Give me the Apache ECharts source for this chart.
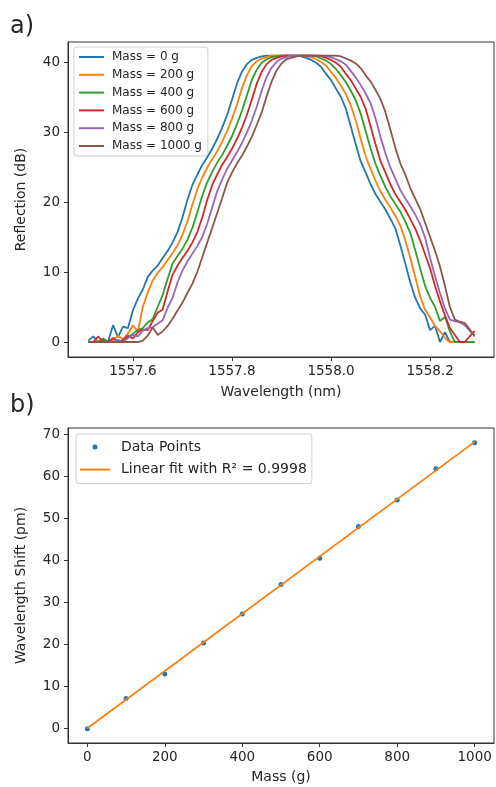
<!DOCTYPE html>
<html>
<head>
<meta charset="utf-8">
<script src="https://cdn.jsdelivr.net/npm/echarts@6/dist/echarts.min.js"></script>
<style>
  html, body { margin: 0; padding: 0; background: #fff; }
  #chart { width: 496px; height: 787px; }
</style>
</head>
<body>
<div id="chart"></div>
<script>
// ---- Panel a: reflection spectra of the grating under load ----
const wavelength = [
  1557.51, 1557.52, 1557.53, 1557.54, 1557.55, 1557.56, 1557.57, 1557.58, 1557.59, 1557.60,
  1557.61, 1557.62, 1557.63, 1557.64, 1557.65, 1557.66, 1557.67, 1557.68, 1557.69, 1557.70,
  1557.71, 1557.72, 1557.73, 1557.74, 1557.75, 1557.76, 1557.77, 1557.78, 1557.79, 1557.80,
  1557.81, 1557.82, 1557.83, 1557.84, 1557.85, 1557.86, 1557.87, 1557.88, 1557.89, 1557.90,
  1557.91, 1557.92, 1557.93, 1557.94, 1557.95, 1557.96, 1557.97, 1557.98, 1557.99, 1558.00,
  1558.01, 1558.02, 1558.03, 1558.04, 1558.05, 1558.06, 1558.07, 1558.08, 1558.09, 1558.10,
  1558.11, 1558.12, 1558.13, 1558.14, 1558.15, 1558.16, 1558.17, 1558.18, 1558.19, 1558.20,
  1558.21, 1558.22, 1558.23, 1558.24, 1558.25, 1558.26, 1558.27, 1558.28, 1558.29
];

const mass0 = [
  0.2, 0.8, 0.0, 0.3, 0.1, 2.4, 0.7, 2.2, 2.0, 4.5,
  6.2, 7.5, 9.3, 10.2, 10.9, 12.0, 13.0, 14.2, 15.7, 17.8,
  20.3, 22.4, 23.9, 25.3, 26.4, 27.6, 29.0, 30.6, 32.4, 34.6,
  36.9, 38.6, 39.7, 40.3, 40.6, 40.8, 40.9, 40.9, 40.9, 40.9,
  40.9, 40.9, 40.9, 40.8, 40.6, 40.3, 39.9, 39.3, 38.3, 37.4,
  36.2, 35.0, 33.3, 30.8, 28.2, 25.8, 24.2, 22.5, 21.1, 20.0,
  18.9, 17.6, 16.2, 13.8, 11.2, 8.5, 6.3, 4.8, 3.9, 1.7,
  2.3, 0.0, 1.4, 0.0, 0.0, 0.0, 0.0, 0.0, 0.0
];
const mass200 = [
  0.0, 0.0, 0.2, 0.0, 0.0, 0.3, 0.9, 0.4, 1.2, 2.4,
  1.5, 5.0, 7.1, 8.8, 9.9, 10.7, 11.7, 12.7, 13.8, 15.3,
  17.2, 19.6, 21.8, 23.5, 24.9, 26.1, 27.2, 28.6, 30.1, 31.9,
  33.9, 36.2, 38.1, 39.4, 40.1, 40.5, 40.7, 40.9, 40.9, 40.9,
  40.9, 40.9, 40.9, 40.9, 40.8, 40.7, 40.4, 40.0, 39.5, 38.6,
  37.7, 36.6, 35.4, 33.8, 31.6, 29.0, 26.5, 24.7, 23.0, 21.5,
  20.3, 19.2, 18.0, 16.6, 14.5, 12.0, 9.3, 6.5, 4.6, 3.5,
  2.3, 1.5, 0.6, 0.0, 0.0, 0.0, 0.0, 0.0, 0.0
];
const mass400 = [
  0.0, 0.0, 0.0, 0.5, 0.0, 0.0, 0.0, 0.3, 0.6, 1.2,
  1.7, 2.0, 2.8, 3.3, 5.0, 6.7, 9.0, 11.2, 12.3, 13.3,
  14.6, 16.3, 18.5, 20.9, 22.8, 24.3, 25.6, 26.7, 28.0, 29.4,
  31.1, 33.0, 35.2, 37.4, 38.9, 39.9, 40.4, 40.7, 40.8, 40.9,
  40.9, 40.9, 40.9, 40.9, 40.9, 40.9, 40.8, 40.5, 40.2, 39.7,
  39.0, 38.1, 37.1, 35.9, 34.5, 32.6, 30.1, 27.6, 25.4, 23.7,
  22.1, 20.8, 19.7, 18.6, 17.2, 15.6, 13.1, 10.5, 8.0, 6.3,
  5.0, 3.0, 3.6, 1.5, 0.0, 0.0, 0.0, 0.0, 0.0
];
const mass600 = [
  0.0, 0.0, 0.8, 0.0, 0.0, 0.6, 0.0, 0.2, 0.9, 0.5,
  1.4, 1.8, 1.7, 3.0, 4.2, 4.6, 7.2, 9.6, 10.9, 12.0,
  13.0, 14.2, 15.7, 17.8, 20.3, 22.4, 23.9, 25.3, 26.4, 27.6,
  29.0, 30.6, 32.4, 34.6, 36.9, 38.6, 39.7, 40.3, 40.6, 40.8,
  40.9, 40.9, 40.9, 40.9, 40.9, 40.9, 40.9, 40.8, 40.6, 40.3,
  39.9, 39.3, 38.3, 37.4, 36.2, 35.0, 33.3, 30.8, 28.2, 25.8,
  24.2, 22.5, 21.1, 20.0, 18.9, 17.6, 16.2, 14.5, 12.5, 10.5,
  8.0, 5.8, 3.8, 2.0, 1.0, 0.0, 0.0, 0.8, 1.6
];
const mass800 = [
  0.0, 0.0, 0.0, 0.0, 0.0, 0.0, 0.3, 0.0, 0.6, 1.0,
  0.8, 1.6, 2.0, 2.1, 2.6, 3.1, 4.9, 6.3, 8.5, 10.2,
  11.5, 12.6, 13.7, 15.0, 16.9, 19.2, 21.5, 23.2, 24.7, 25.9,
  27.1, 28.4, 29.9, 31.6, 33.6, 35.9, 37.9, 39.2, 40.0, 40.5,
  40.7, 40.9, 40.9, 40.9, 40.9, 40.9, 40.9, 40.9, 40.8, 40.7,
  40.4, 40.1, 39.6, 38.7, 37.8, 36.7, 35.5, 34.1, 31.9, 29.3,
  26.9, 24.9, 23.3, 21.7, 20.5, 19.4, 18.2, 16.8, 14.9, 12.0,
  9.4, 7.0, 4.8, 3.2, 3.0, 2.8, 2.4, 1.6, 1.0
];
const mass1000 = [
  0.0, 0.0, 0.0, 0.0, 0.0, 0.0, 0.0, 0.0, 0.0, 0.0,
  0.0, 0.2, 0.9, 2.1, 1.0, 1.5, 2.3, 3.3, 4.5, 5.6,
  7.0, 8.3, 10.0, 12.1, 14.2, 16.3, 18.4, 20.5, 22.7, 24.2,
  25.5, 26.6, 27.9, 29.3, 31.0, 32.8, 35.1, 37.2, 38.8, 39.8,
  40.4, 40.6, 40.8, 40.9, 40.9, 40.9, 40.9, 40.9, 40.9, 40.9,
  40.9, 40.8, 40.5, 40.2, 39.8, 39.1, 38.1, 37.2, 36.0, 34.7,
  32.8, 30.3, 27.7, 25.5, 23.9, 22.0, 20.5, 19.0, 17.0, 15.0,
  13.0, 10.8, 8.0, 5.0, 3.2, 2.9, 2.7, 1.8, 0.8
];

const spectraNames = ['Mass = 0 g', 'Mass = 200 g', 'Mass = 400 g', 'Mass = 600 g', 'Mass = 800 g', 'Mass = 1000 g'];
const spectraColors = ['#1f77b4', '#ff7f0e', '#2ca02c', '#d62728', '#9467bd', '#8c564b'];
const wavelengthTicks = [1557.6, 1557.8, 1558.0, 1558.2];
const reflectionTicks = [0, 10, 20, 30, 40];

// ---- Panel b: Bragg wavelength shift versus applied mass ----
const massLoad = [0, 100, 200, 300, 400, 500, 600, 700, 800, 900, 1000];
const wavelengthShift = [0, 7.2, 13.0, 20.4, 27.3, 34.3, 40.5, 48.1, 54.4, 61.8, 68.0];
const fitMass = [0, 1000];
const fitShift = [0.1, 68.2];
const massTicks = [0, 200, 400, 600, 800, 1000];
const shiftTicks = [0, 10, 20, 30, 40, 50, 60, 70];

const FONT = 'DejaVu Sans';
const INK = '#262626';
// thin horizontal bar used as the legend glyph for line series
const LINE_ICON_A = 'path://M0,0 H25 V2 H0 Z';
const LINE_ICON_B = 'path://M0,0 H30 V2 H0 Z';

function valueAxis(gridIndex, min, max, ticks, fmt, name, nameGap, isX) {
  return {
    type: 'value',
    gridIndex: gridIndex,
    min: min,
    max: max,
    name: name,
    nameLocation: 'middle',
    nameGap: nameGap,
    nameTextStyle: { fontFamily: FONT, fontSize: 14, color: INK },
    axisLine: { show: true, onZero: false, lineStyle: { color: '#333', width: 1 } },
    splitLine: { show: false },
    axisTick: {
      show: true, inside: false, length: 4,
      customValues: ticks,
      lineStyle: { color: '#333', width: 1 }
    },
    axisLabel: {
      customValues: ticks,
      formatter: fmt,
      margin: isX ? 7 : 8,
      fontFamily: FONT, fontSize: 13.5, color: INK
    }
  };
}

const spectra = [mass0, mass200, mass400, mass600, mass800, mass1000];
const spectraSeries = spectra.map((vals, k) => ({
  type: 'line',
  name: spectraNames[k],
  xAxisIndex: 0,
  yAxisIndex: 0,
  data: wavelength.map((w, i) => [w, vals[i]]),
  symbol: 'none',
  lineStyle: { color: spectraColors[k], width: 1.8 },
  itemStyle: { color: spectraColors[k] },
  animation: false
}));

const option = {
  animation: false,
  backgroundColor: '#fff',
  grid: [
    { left: 68, top: 42, width: 426, height: 315, show: true, borderColor: '#333', borderWidth: 1, backgroundColor: 'transparent', outerBoundsMode: 'none' },
    { left: 68, top: 428, width: 426, height: 315, show: true, borderColor: '#333', borderWidth: 1, backgroundColor: 'transparent', outerBoundsMode: 'none' }
  ],
  xAxis: [
    valueAxis(0, 1557.469, 1558.329, wavelengthTicks, v => v.toFixed(1), 'Wavelength (nm)', 28, true),
    valueAxis(1, -50, 1050, massTicks, v => String(v), 'Mass (g)', 27, true)
  ],
  yAxis: [
    valueAxis(0, -2.14, 42.86, reflectionTicks, v => String(v), 'Reflection (dB)', 40, false),
    valueAxis(1, -3.4, 71.5, shiftTicks, v => String(v), 'Wavelength Shift (pm)', 40, false)
  ],
  legend: [
    {
      data: spectraNames.map(n => ({ name: n, icon: LINE_ICON_A })),
      left: 74, top: 47,
      orient: 'vertical',
      itemWidth: 25, itemHeight: 10, itemGap: 5.8,
      padding: [4, 6, 4, 5],
      borderColor: '#d0d0d0', borderWidth: 1, borderRadius: 3,
      backgroundColor: 'rgba(255,255,255,0.8)',
      textStyle: { fontFamily: FONT, fontSize: 12, color: INK, lineHeight: 12, padding: [0, 0, 0, 3] }
    },
    {
      data: [{ name: 'Data Points', icon: 'circle' }, { name: 'Linear fit with R² = 0.9998', icon: LINE_ICON_B }],
      left: 76, top: 434,
      orient: 'vertical',
      itemWidth: 30, itemHeight: 5, itemGap: 6.6,
      padding: [5, 5, 6, 4],
      borderColor: '#d0d0d0', borderWidth: 1, borderRadius: 3,
      backgroundColor: 'rgba(255,255,255,0.8)',
      textStyle: { fontFamily: FONT, fontSize: 14, color: INK, lineHeight: 16, padding: [0, 0, 0, 6] }
    }
  ],
  graphic: [
    { type: 'text', left: 10, top: 15, style: { text: 'a)', fontFamily: FONT, fontSize: 24, fill: INK } },
    { type: 'text', left: 10, top: 394, style: { text: 'b)', fontFamily: FONT, fontSize: 24, fill: INK } }
  ],
  series: spectraSeries.concat([
    {
      type: 'scatter',
      name: 'Data Points',
      xAxisIndex: 1, yAxisIndex: 1,
      data: massLoad.map((m, i) => [m, wavelengthShift[i]]),
      symbol: 'circle',
      symbolSize: 5,
      itemStyle: { color: '#1f77b4', opacity: 1 },
      z: 2
    },
    {
      type: 'line',
      name: 'Linear fit with R² = 0.9998',
      xAxisIndex: 1, yAxisIndex: 1,
      data: fitMass.map((m, i) => [m, fitShift[i]]),
      symbol: 'none',
      lineStyle: { color: '#ff7f0e', width: 1.8 },
      itemStyle: { color: '#ff7f0e' },
      z: 3
    }
  ])
};

const chart = echarts.init(document.getElementById('chart'), null, { renderer: 'canvas' });
chart.setOption(option);
</script>
</body>
</html>
